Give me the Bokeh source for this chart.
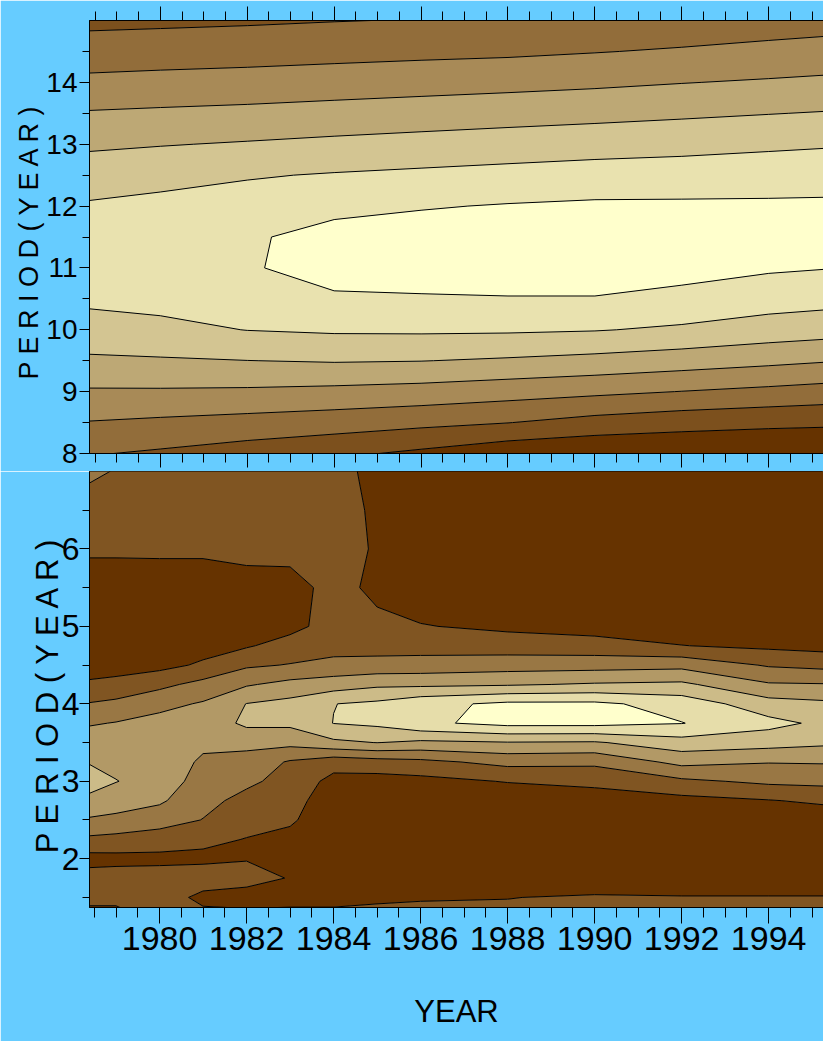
from bokeh.plotting import figure
from bokeh.layouts import column
from bokeh.models import FixedTicker, LinearAxis, CustomLabelingPolicy
from bokeh.embed import file_html
from bokeh.resources import INLINE

BG = "#66CCFF"
TOP_COLORS = ["#663300", "#7C501D", "#926D3A", "#A88A57", "#BDA875", "#D3C592", "#E9E2AF", "#FFFFCC"]
BOT_COLORS = ["#663300", "#805522", "#997744", "#B29966", "#CCBB88", "#E6DDAA", "#FFFFCC"]

# ---------------- data: top panel (period 8-15 yr) ----------------
top_years = [1978, 1980, 1982, 1984, 1986, 1988, 1990, 1992, 1994, 1996]
top_periods = [8.0, 8.5, 9.0, 9.5, 10.0, 10.5, 11.0, 11.5, 12.0, 12.5, 13.0, 13.5, 14.0, 14.5, 15.0]
top_power = [
    [2.12, 1.86, 1.53, 1.21, 0.80, 0.30, 0.10, 0.10, 0.10, 0.10],
    [2.98, 2.82, 2.65, 2.47, 2.25, 2.02, 1.64, 1.38, 1.22, 1.13],
    [3.89, 3.89, 3.85, 3.75, 3.62, 3.41, 3.21, 2.98, 2.76, 2.52],
    [4.83, 4.90, 4.99, 5.07, 5.02, 4.88, 4.70, 4.48, 4.24, 3.98],
    [5.57, 5.75, 6.02, 6.13, 6.15, 6.13, 6.05, 5.85, 5.55, 5.33],
    [6.16, 6.30, 6.40, 6.86, 6.91, 6.95, 6.95, 6.73, 6.44, 6.26],
    [6.58, 6.73, 6.90, 7.40, 7.45, 7.49, 7.49, 7.34, 7.12, 6.98],
    [6.49, 6.65, 6.88, 7.31, 7.45, 7.59, 7.69, 7.65, 7.60, 7.42],
    [6.07, 6.25, 6.42, 6.76, 6.93, 7.06, 7.15, 7.15, 7.15, 7.17],
    [5.48, 5.70, 5.92, 6.07, 6.19, 6.31, 6.42, 6.48, 6.55, 6.61],
    [4.82, 4.95, 5.08, 5.22, 5.35, 5.47, 5.59, 5.69, 5.83, 5.95],
    [4.06, 4.16, 4.25, 4.37, 4.48, 4.60, 4.71, 4.84, 4.97, 5.10],
    [3.21, 3.30, 3.38, 3.49, 3.60, 3.70, 3.82, 3.97, 4.10, 4.24],
    [2.46, 2.54, 2.60, 2.68, 2.76, 2.83, 2.96, 3.10, 3.27, 3.43],
    [1.75, 1.81, 1.88, 1.97, 2.04, 2.11, 2.22, 2.36, 2.51, 2.66],
]
top_levels = [0, 1, 2, 3, 4, 5, 6, 7, 8]

# ---------------- data: bottom panel (period 1.4-7 yr) ----------------
bot_years = [1978, 1979, 1980, 1981, 1982, 1983, 1984, 1985, 1986, 1988, 1990, 1992, 1994, 1996]
bot_periods = [1.25, 1.5, 1.75, 2.0, 2.25, 2.5, 2.75, 3.0, 3.25, 3.5, 3.75, 4.0, 4.25,
               4.5, 4.75, 5.0, 5.5, 6.0, 6.5, 7.0, 7.25]
# one list per year column (values listed from short to long period)
bot_cols = [
    [0.6, 1.3, 1.4, 0.6, 1.87, 2.99, 3.99, 4.5, 4.1, 3.5, 2.8, 1.95, 1.07, 0.6, 0.4, 0.3, 0.5, 1.15, 1.75, 2.3, 2.5],
    [0.6, 1.3, 1.45, 0.7, 1.7, 2.74, 3.5, 4.03, 3.75, 3.4, 3.05, 2.23, 1.28, 0.6, 0.4, 0.3, 0.5, 1.15, 1.6, 1.95, 2.1],
    [1.3, 1.5, 1.45, 0.75, 1.48, 2.45, 3.15, 3.6, 3.6, 3.5, 3.35, 2.7, 1.75, 0.7, 0.4, 0.3, 0.4, 1.2, 1.4, 1.5, 1.5],
    [1.3, 0.75, 1.5, 0.8, 1.2, 1.97, 2.3, 2.55, 2.85, 3.2, 3.4, 3.1, 2.3, 1.15, 0.6, 0.3, 0.4, 1.2, 1.4, 1.5, 1.5],
    [1.3, 0.6, 1.35, 0.95, 0.97, 1.3, 1.7, 2.2, 2.6, 3.3, 4.2, 4.02, 2.9, 1.85, 0.9, 0.5, 0.6, 1.3, 1.5, 1.6, 1.6],
    [1.2, 0.8, 0.95, 0.85, 0.7, 1.15, 1.4, 1.65, 1.9, 3.3, 4.2, 4.3, 3.3, 2.05, 1.4, 0.7, 0.65, 1.3, 1.6, 1.7, 1.7],
    [1.2, 0.8, 0.3, 0.2, 0.2, 0.3, 0.4, 0.7, 1.4, 3.8, 5.02, 4.98, 3.5, 2.3, 1.6, 1.4, 1.3, 1.2, 1.25, 1.3, 1.3],
    [1.2, 0.9, 0.3, 0.2, 0.2, 0.2, 0.3, 0.6, 1.6, 4.02, 5.2, 5.2, 3.8, 2.35, 1.6, 1.2, 0.8, 0.95, 0.9, 0.75, 0.7],
    [1.2, 0.95, 0.3, 0.15, 0.15, 0.15, 0.2, 0.7, 1.75, 3.8, 5.8, 5.7, 3.8, 2.4, 1.6, 1.05, 0.4, 0.2, 0.2, 0.2, 0.2],
    [1.2, 0.98, 0.3, 0.15, 0.15, 0.15, 0.3, 1.05, 2.3, 3.95, 6.3, 6.2, 3.9, 2.55, 1.5, 0.8, 0.3, 0.15, 0.15, 0.15, 0.15],
    [1.2, 1.1, 0.4, 0.15, 0.15, 0.15, 0.4, 1.3, 2.2, 3.9, 6.3, 6.2, 4.1, 2.6, 1.4, 0.6, 0.2, 0.15, 0.15, 0.15, 0.15],
    [1.2, 1.05, 0.4, 0.15, 0.15, 0.2, 0.7, 1.8, 3.3, 4.6, 6.03, 5.6, 4.2, 2.7, 1.02, 0.5, 0.2, 0.15, 0.15, 0.15, 0.15],
    [1.2, 1.05, 0.4, 0.15, 0.15, 0.3, 0.95, 2.2, 3.05, 4.4, 5.3, 4.4, 3.1, 1.9, 0.8, 0.4, 0.2, 0.15, 0.15, 0.15, 0.15],
    [1.2, 1.05, 0.4, 0.15, 0.2, 0.5, 1.3, 2.3, 3.1, 4.1, 4.5, 4.1, 3.02, 1.6, 0.6, 0.3, 0.15, 0.15, 0.15, 0.15, 0.15],
]
bot_power = [list(r) for r in zip(*bot_cols)]
bot_levels = [0, 1, 2, 3, 4, 5, 6, 7]

x_major = [1978, 1980, 1982, 1984, 1986, 1988, 1990, 1992, 1994, 1996]
top_y_major = [8, 9, 10, 11, 12, 13, 14]
bot_y_major = [2, 3, 4, 5, 6]
y_title = "P E R I O D  ( Y E A R )"
x_title = "YEAR"

# ---------------- styling ----------------
FONT = "'Liberation Sans', Arial, sans-serif"
x_minor = [1978 + 0.5 * i for i in range(37)]


def style_common(p):
    p.background_fill_color = BG
    p.border_fill_color = BG
    p.outline_line_color = "black"
    p.outline_line_width = 1
    p.grid.visible = False


def tick_only_axis(ax, major_out, minor_out):
    ax.major_tick_out = major_out
    ax.minor_tick_out = minor_out
    ax.major_tick_in = 0
    ax.minor_tick_in = 0
    ax.major_label_policy = CustomLabelingPolicy(
        code="for (const i of indices) { indices.unset(i) }\nreturn indices")
    ax.major_label_text_font_size = "1px"
    ax.major_label_standoff = 0
    ax.axis_line_color = "black"
    ax.major_tick_line_color = "black"
    ax.minor_tick_line_color = "black"


def style_y(ax, major, minor, size, standoff, title_size, title_standoff):
    ax.ticker = FixedTicker(ticks=major, minor_ticks=minor)
    ax.major_tick_out = 10
    ax.minor_tick_out = 7
    ax.major_tick_in = 0
    ax.minor_tick_in = 0
    ax.major_label_standoff = standoff
    ax.major_label_text_font = FONT
    ax.major_label_text_font_size = size
    ax.major_label_text_color = "black"
    ax.axis_line_color = "black"
    ax.major_tick_line_color = "black"
    ax.minor_tick_line_color = "black"
    ax.axis_label = y_title
    ax.axis_label_text_font = FONT
    ax.axis_label_text_font_size = title_size
    ax.axis_label_text_font_style = "normal"
    ax.axis_label_text_color = "black"
    ax.axis_label_standoff = title_standoff


# ---------------- top figure ----------------
p1 = figure(width=823, height=471, x_range=(1978.37, 1995.26), y_range=(8, 15),
            output_backend="svg", toolbar_location=None,
            min_border_left=88, min_border_right=0, min_border_top=20, min_border_bottom=16)
style_common(p1)
p1.contour(x=top_years, y=top_periods, z=top_power, levels=top_levels,
           fill_color=TOP_COLORS, line_color="black", line_width=1)

p1.xaxis.ticker = FixedTicker(ticks=x_major, minor_ticks=x_minor)
tick_only_axis(p1.xaxis[0], 14, 9)
ax_top = LinearAxis(ticker=FixedTicker(ticks=x_major, minor_ticks=x_minor))
tick_only_axis(ax_top, 14, 9)
p1.add_layout(ax_top, "above")

style_y(p1.yaxis[0], top_y_major, [8.5 + i for i in range(7)], "28px", 2, "27px", -1)

# ---------------- bottom figure ----------------
p2 = figure(width=823, height=570, x_range=(1978.39, 1995.26), y_range=(1.37, 7.0),
            output_backend="svg", toolbar_location=None,
            min_border_left=89, min_border_right=0, min_border_top=0, min_border_bottom=134)
style_common(p2)
p2.contour(x=bot_years, y=bot_periods, z=bot_power, levels=bot_levels,
           fill_color=BOT_COLORS, line_color="black", line_width=1)

xa = p2.xaxis[0]
xa.ticker = FixedTicker(ticks=x_major, minor_ticks=x_minor)
xa.major_tick_out = 16
xa.minor_tick_out = 10
xa.major_tick_in = 0
xa.minor_tick_in = 0
xa.major_label_standoff = 3
xa.major_label_text_font = FONT
xa.major_label_text_font_size = "34px"
xa.major_label_text_color = "black"
xa.axis_label = x_title
xa.axis_label_text_font = FONT
xa.axis_label_text_font_size = "31px"
xa.axis_label_text_font_style = "normal"
xa.axis_label_text_color = "black"
xa.axis_label_standoff = 41
xa.axis_line_color = "black"
xa.major_tick_line_color = "black"
xa.minor_tick_line_color = "black"

style_y(p2.yaxis[0], bot_y_major, [1.5 + i for i in range(6)], "32px", 0, "31px", -6)

layout = column(p1, p2, spacing=0)
open("out.html", "w").write(file_html(layout, INLINE))
